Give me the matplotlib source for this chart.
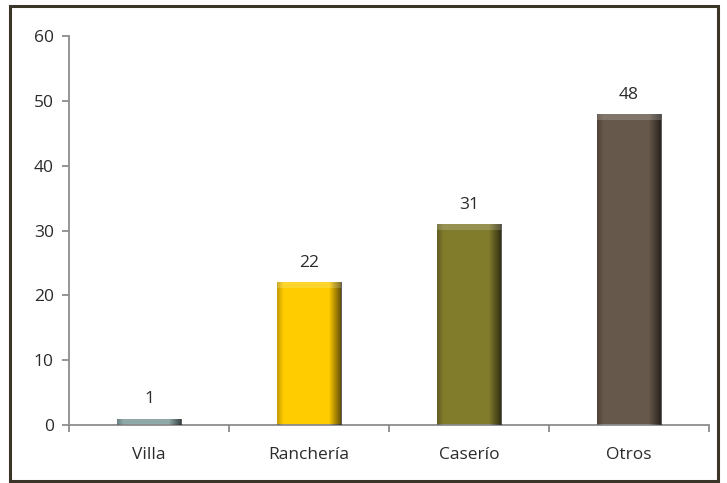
import matplotlib
matplotlib.use("Agg")
import matplotlib.pyplot as plt
import numpy as np
from matplotlib.patches import Rectangle

categories = ["Villa", "Ranchería", "Caserío", "Otros"]
values = [1, 22, 31, 48]
colors = ["#8FA9A9", "#FFCC00", "#817B2C", "#66584A"]
yticks = [0, 10, 20, 30, 40, 50, 60]

plt.rcParams['font.family'] = ['Open Sans', 'DejaVu Sans']
axis_grey = "#8C8C8C"
text_col = "#2B2B2B"
fs = 12.5

fig = plt.figure(figsize=(7.27, 4.83), dpi=100)
ax = fig.add_axes([0.0949, 0.120, 0.8804, 0.8054])

x = np.arange(len(categories))
bars = ax.bar(x, values, width=0.4, color=colors, zorder=2)

# simple bevel look: horizontal shading gradient clipped to each bar
grad = np.linspace(0, 1, 256)
shade = np.zeros((1, 256, 4))
shade[0, :, 3] = np.clip((grad - 0.8) / 0.2, 0, 1) * 0.65
shade[0, :, 3] += np.clip((0.1 - grad) / 0.1, 0, 1) * 0.25
for b in bars:
    x0, w, h = b.get_x(), b.get_width(), b.get_height()
    im = ax.imshow(shade, extent=[x0, x0 + w, 0, h], aspect="auto", zorder=3,
                   interpolation="bilinear")
    im.set_clip_path(b)
    # lighter top bevel
    th = min(h * 0.04, 0.9)
    top = Rectangle((x0, h - th), w, th, facecolor="white", alpha=0.18,
                    edgecolor="none", zorder=4)
    ax.add_patch(top)

for xi, v in zip(x, values):
    ax.annotate(str(v), (xi, v), xytext=(0, 8), textcoords="offset points",
                ha="center", va="bottom", fontsize=fs, color=text_col)

ax.set_xlim(-0.5, len(categories) - 0.5)
ax.set_ylim(0, 60)
ax.set_yticks(yticks)
ax.set_yticklabels([str(t) for t in yticks], fontsize=fs, color=text_col)
ax.set_xticks(x)
ax.set_xticklabels(categories, fontsize=fs, color=text_col)
ax.tick_params(axis="x", length=0, pad=16)
ax.set_xticks(np.arange(-0.5, len(categories)), minor=True)
ax.tick_params(axis="x", which="minor", length=5, color=axis_grey, width=1.3)
ax.tick_params(axis="y", length=5, color=axis_grey, width=1.3, pad=6)

for s in ["top", "right"]:
    ax.spines[s].set_visible(False)
for s in ["left", "bottom"]:
    ax.spines[s].set_color(axis_grey)
    ax.spines[s].set_linewidth(1.3)

border = Rectangle((10 / 727, 0.004), 708 / 727, 0.983, transform=fig.transFigure,
                   fill=False, edgecolor="#3A3528", linewidth=2.2)
fig.patches.append(border)

fig.savefig("out.png", dpi=100)
